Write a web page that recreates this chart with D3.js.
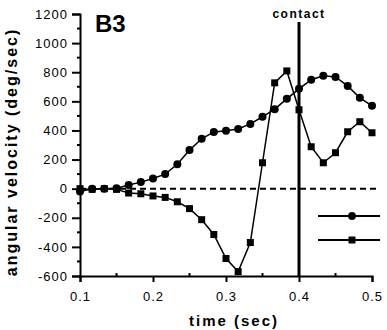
<!DOCTYPE html>
<html>
<head>
<meta charset="utf-8">
<script src="https://cdn.jsdelivr.net/npm/d3@7"></script>
<style>
  body { margin: 0; background: #fff; }
  svg { display: block; font-family: "Liberation Sans", Arial, sans-serif; }
</style>
</head>
<body>
<svg width="387" height="330"></svg>
<script>
// sampled at 60 Hz from 0.1 to 0.5 sec
var times = d3.range(25).map(function(k) { return 0.1 + k / 60; });
var circleSeries = [-20, 0, 0, 3, 25, 45, 70, 100, 168, 265, 343, 390, 398, 410, 445, 494, 546, 617, 686, 748, 775, 768, 706, 624, 569];
var squareSeries = [0, -5, 0, -5, -30, -35, -50, -60, -90, -137, -213, -315, -480, -570, -370, 178, 727, 809, 542, 288, 178, 247, 391, 460, 384];
var xTicks = [0.1, 0.2, 0.3, 0.4, 0.5];
var yTicks = [-600, -400, -200, 0, 200, 400, 600, 800, 1000, 1200];
var contactTime = 0.4;

var svg = d3.select("svg");
var x = d3.scaleLinear().domain([0.1, 0.5]).range([80, 372]);
var y = d3.scaleLinear().domain([-600, 1200]).range([276, 14]);

// axes
var yAxis = svg.append("g").attr("transform", "translate(80,0)")
  .call(d3.axisLeft(y).tickValues(yTicks).tickSize(8).tickPadding(4).tickFormat(function(d) { return d < 0 ? "-" + (-d) : d; }));
var xAxis = svg.append("g").attr("transform", "translate(0,276)")
  .call(d3.axisBottom(x).tickValues(xTicks).tickSize(6).tickPadding(10).tickFormat(d3.format(".1f")));
[yAxis, xAxis].forEach(function(g) {
  g.select(".domain").attr("stroke", "#000").attr("stroke-width", 2);
  g.selectAll(".tick line").attr("stroke", "#000").attr("stroke-width", 2);
  g.selectAll("text").attr("fill", "#000").style("font-size", "13px").style("letter-spacing", "1px");
});
// minor ticks
svg.append("g").selectAll("line").data(d3.range(-500, 1200, 200)).enter().append("line")
  .attr("x1", 77).attr("x2", 80).attr("y1", function(d) { return y(d); }).attr("y2", function(d) { return y(d); })
  .attr("stroke", "#000").attr("stroke-width", 2);
svg.append("g").selectAll("line").data([0.15, 0.25, 0.35, 0.45]).enter().append("line")
  .attr("x1", function(d) { return x(d); }).attr("x2", function(d) { return x(d); }).attr("y1", 273).attr("y2", 276)
  .attr("stroke", "#000").attr("stroke-width", 2);

// zero reference
svg.append("line").attr("x1", x(0.1)).attr("x2", 380).attr("y1", y(0)).attr("y2", y(0))
  .attr("stroke", "#000").attr("stroke-width", 2).attr("stroke-dasharray", "6,4");

var line = d3.line().x(function(d) { return x(d[0]); }).y(function(d) { return y(d[1]); });
var circleData = times.map(function(t, i) { return [t, circleSeries[i]]; });
var squareData = times.map(function(t, i) { return [t, squareSeries[i]]; });

svg.append("path").datum(circleData).attr("d", line).attr("fill", "none").attr("stroke", "#000").attr("stroke-width", 1.5);
svg.append("path").datum(squareData).attr("d", line).attr("fill", "none").attr("stroke", "#000").attr("stroke-width", 1.5);

svg.append("g").selectAll("circle").data(circleData).enter().append("circle")
  .attr("cx", function(d) { return x(d[0]); }).attr("cy", function(d) { return y(d[1]); }).attr("r", 4);
svg.append("g").selectAll("rect").data(squareData).enter().append("rect")
  .attr("x", function(d) { return x(d[0]) - 3.5; }).attr("y", function(d) { return y(d[1]) - 3.5; })
  .attr("width", 7).attr("height", 7);

// contact line
svg.append("line").attr("x1", x(contactTime)).attr("x2", x(contactTime)).attr("y1", 22).attr("y2", 276)
  .attr("stroke", "#000").attr("stroke-width", 3);
svg.append("text").attr("x", x(contactTime)).attr("y", 18).attr("text-anchor", "middle")
  .style("font-size", "12px").style("font-weight", "bold").style("letter-spacing", "1.5px").text("contact");

// legend
[[216, "circle"], [240, "square"]].forEach(function(l) {
  svg.append("line").attr("x1", 318).attr("x2", 380).attr("y1", l[0]).attr("y2", l[0]).attr("stroke", "#000").attr("stroke-width", 2);
  if (l[1] == "circle") svg.append("circle").attr("cx", 352).attr("cy", l[0]).attr("r", 4);
  else svg.append("rect").attr("x", 348.5).attr("y", l[0] - 3.5).attr("width", 7).attr("height", 7);
});

// labels
svg.append("text").attr("x", 95).attr("y", 32).style("font-size", "24px").style("font-weight", "bold").text("B3");
svg.append("text").attr("x", 234).attr("y", 326).attr("text-anchor", "middle")
  .style("font-size", "15px").style("font-weight", "bold").style("letter-spacing", "2px").text("time  (sec)");
svg.append("text").attr("transform", "translate(17,152) rotate(-90)").attr("text-anchor", "middle")
  .style("font-size", "16px").style("font-weight", "bold").style("letter-spacing", "2px").text("angular  velocity  (deg/sec)");
</script>
</body>
</html>
